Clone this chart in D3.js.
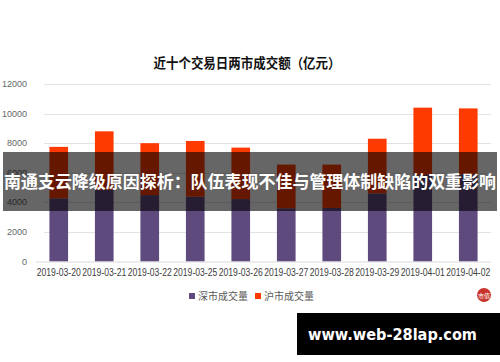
<!DOCTYPE html>
<html>
<head>
<meta charset="UTF-8">
<title>近十个交易日两市成交额</title>
<script src="https://cdnjs.cloudflare.com/ajax/libs/d3/7.8.5/d3.min.js"></script>
<style>
body { margin: 0; background: #fff; }
svg { display: block; font-family: "Liberation Sans", "Noto Sans CJK SC", sans-serif; }
</style>
</head>
<body>
<div id="chart"></div>
<script>
// data (亿元)
var dates = ["2019-03-20", "2019-03-21", "2019-03-22", "2019-03-25", "2019-03-26",
             "2019-03-27", "2019-03-28", "2019-03-29", "2019-04-01", "2019-04-02"];
var shenzhen = [4270, 4850, 4490, 4380, 4220, 3600, 3620, 4610, 5850, 5900];
var shanghai = [3480, 3950, 3510, 3770, 3480, 2950, 2930, 3690, 4550, 4450];
var yTicks = [0, 2000, 4000, 6000, 8000, 10000, 12000];
var seriesNames = ["深市成交量", "沪市成交量"];
var colors = ["#5f4a7e", "#ff3a00"];

var width = 500, height = 362;
var svg = d3.select("#chart").append("svg")
    .attr("width", width)
    .attr("height", height);

var rows = dates.map(function (d, i) {
    return { date: d, sz: shenzhen[i], sh: shanghai[i] };
});
var stacked = d3.stack().keys(["sz", "sh"])(rows);

var x = d3.scaleBand()
    .domain(dates)
    .range([36, 491])
    .paddingInner(0.59)
    .paddingOuter(0.295);

var y = d3.scaleLinear()
    .domain([0, 12000])
    .range([261.5, 84]);

// title
svg.append("text")
    .attr("x", 247)
    .attr("y", 68)
    .attr("text-anchor", "middle")
    .attr("font-family", "'Noto Sans CJK SC', sans-serif")
    .attr("font-weight", "bold")
    .attr("font-size", 13.5)
    .attr("fill", "#111")
    .attr("textLength", 187)
    .attr("lengthAdjust", "spacingAndGlyphs")
    .text("近十个交易日两市成交额（亿元）");

// gridlines
svg.append("g")
    .selectAll("line")
    .data(yTicks.filter(function (t) { return t > 0; }))
    .enter().append("line")
    .attr("x1", 44).attr("x2", 491)
    .attr("y1", function (d) { return Math.round(y(d)) + 0.5; })
    .attr("y2", function (d) { return Math.round(y(d)) + 0.5; })
    .attr("stroke", "#e3e3e3")
    .attr("stroke-width", 1);

// y labels
svg.append("g")
    .selectAll("text")
    .data(yTicks)
    .enter().append("text")
    .attr("x", 27)
    .attr("y", function (d) { return y(d) + 3; })
    .attr("text-anchor", "end")
    .attr("font-size", 9)
    .attr("fill", "#666")
    .text(function (d) { return d; });

// bars
svg.append("g")
    .selectAll("g")
    .data(stacked)
    .enter().append("g")
    .attr("fill", function (d, i) { return colors[i]; })
    .selectAll("rect")
    .data(function (d) { return d; })
    .enter().append("rect")
    .attr("x", function (d) { return x(d.data.date); })
    .attr("width", x.bandwidth())
    .attr("y", function (d) { return y(d[1]); })
    .attr("height", function (d) { return y(d[0]) - y(d[1]); });

// baseline
svg.append("line")
    .attr("x1", 36).attr("x2", 491)
    .attr("y1", 262).attr("y2", 262)
    .attr("stroke", "#d9d9d9");

// x labels
var xAxis = d3.axisBottom(x).tickSize(0).tickPadding(0);
var gx = svg.append("g")
    .attr("transform", "translate(0,269)")
    .call(xAxis);
gx.select(".domain").remove();
gx.selectAll("text")
    .attr("font-family", "'Liberation Sans', sans-serif")
    .attr("font-size", 10)
    .attr("fill", "#404040")
    .attr("textLength", 44)
    .attr("lengthAdjust", "spacingAndGlyphs");

// legend
var legend = svg.append("g").attr("font-family", "'Noto Sans CJK SC', sans-serif");
var legendX = [189, 255];
seriesNames.forEach(function (name, i) {
    legend.append("rect")
        .attr("x", legendX[i]).attr("y", 293)
        .attr("width", 6).attr("height", 6)
        .attr("fill", colors[i]);
    legend.append("text")
        .attr("x", legendX[i] + 9).attr("y", 300)
        .attr("font-size", 10)
        .attr("fill", "#595959")
        .text(name);
});

// small seal bottom right
svg.append("circle")
    .attr("cx", 484).attr("cy", 295).attr("r", 7)
    .attr("fill", "#c8342c");
svg.append("text")
    .attr("x", 484).attr("y", 297.5)
    .attr("text-anchor", "middle")
    .attr("font-family", "'Noto Sans CJK SC', sans-serif")
    .attr("font-size", 6)
    .attr("fill", "#fff")
    .text("市值");

// headline overlay band
svg.append("rect")
    .attr("x", 3).attr("y", 152)
    .attr("width", 494).attr("height", 59)
    .attr("fill", "rgba(0,0,0,0.6)");
svg.append("text")
    .attr("x", 250).attr("y", 188)
    .attr("text-anchor", "middle")
    .attr("font-family", "'Noto Sans CJK SC', sans-serif")
    .attr("font-weight", "bold")
    .attr("font-size", 17)
    .attr("fill", "#fff")
    .attr("textLength", 492)
    .attr("lengthAdjust", "spacingAndGlyphs")
    .text("南通支云降级原因探析：队伍表现不佳与管理体制缺陷的双重影响");

// site banner
svg.append("rect")
    .attr("x", 297).attr("y", 313)
    .attr("width", 203).attr("height", 42)
    .attr("fill", "#000");
svg.append("text")
    .attr("x", 308).attr("y", 340)
    .attr("font-family", "'DejaVu Sans', sans-serif")
    .attr("font-weight", "bold")
    .attr("font-size", 16)
    .attr("fill", "#fff")
    .attr("textLength", 169)
    .attr("lengthAdjust", "spacingAndGlyphs")
    .text("www.web-28lap.com");
</script>
</body>
</html>
